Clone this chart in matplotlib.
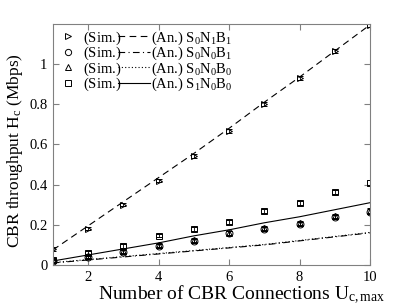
import numpy as np
import matplotlib
matplotlib.use("Agg")
import matplotlib.pyplot as plt
from matplotlib.lines import Line2D

plt.rcParams['font.family'] = ['Liberation Serif', 'DejaVu Serif']
plt.rcParams['mathtext.fontset'] = 'custom'
plt.rcParams['mathtext.rm'] = 'Liberation Serif'
plt.rcParams['mathtext.it'] = 'Liberation Serif'

# connections
u = [1, 2, 3, 4, 5, 6, 7, 8, 9, 10]

# simulation results (Mbps)
sim_s0n1b1 = [0.08, 0.18, 0.30, 0.42, 0.54, 0.665, 0.80, 0.93, 1.065, 1.195]
sim_s0n0b1 = [0.02, 0.04, 0.065, 0.095, 0.12, 0.16, 0.18, 0.205, 0.24, 0.265]
sim_s0n0b0 = [0.025, 0.045, 0.07, 0.10, 0.125, 0.16, 0.185, 0.21, 0.245, 0.27]
sim_s1n0b0 = [0.025, 0.06, 0.095, 0.145, 0.18, 0.215, 0.27, 0.31, 0.365, 0.41]
sim_err = [0.008, 0.008, 0.008, 0.008, 0.01, 0.01, 0.01, 0.01, 0.01, 0.012]

# analytical results (Mbps)
an_s0n1b1 = [0.075, 0.195, 0.315, 0.435, 0.555, 0.68, 0.81, 0.935, 1.065, 1.195]
an_s0n0b1 = [0.01, 0.025, 0.04, 0.055, 0.07, 0.085, 0.10, 0.12, 0.14, 0.16]
an_s0n0b0 = [0.012, 0.027, 0.042, 0.057, 0.072, 0.087, 0.102, 0.122, 0.142, 0.162]
an_s1n0b0 = [0.02, 0.05, 0.08, 0.11, 0.145, 0.175, 0.21, 0.24, 0.275, 0.31]

labels = [r'(An.) S$_0$N$_1$B$_1$', r'(An.) S$_0$N$_0$B$_1$',
          r'(An.) S$_0$N$_0$B$_0$', r'(An.) S$_1$N$_0$B$_0$']

fig = plt.figure(figsize=(4.07, 3.06), dpi=100)
ax = fig.add_axes([0.130, 0.134, 0.779, 0.788])

sims = [sim_s0n1b1, sim_s0n0b1, sim_s0n0b0, sim_s1n0b0]
ans = [an_s0n1b1, an_s0n0b1, an_s0n0b0, an_s1n0b0]
markers = ['>', 'o', '^', 's']
styles = [(0, (6, 4)), (0, (6, 3, 1, 3)), (0, (1, 2)), '-']

for s, m in zip(sims, markers):
    ax.errorbar(u, s, yerr=sim_err, fmt=m, mfc='none', mec='black', ms=5,
                mew=0.7, ecolor='black', elinewidth=0.6, capsize=2, capthick=0.6)
for a, ls in zip(ans, styles):
    ax.plot(u, a, color='black', lw=0.8, linestyle=ls)

ax.set_xlim(1, 10)
ax.set_ylim(0, 1.2)
ax.set_xticks([2, 4, 6, 8, 10])
ax.set_yticks([0, 0.2, 0.4, 0.6, 0.8, 1.0])
ax.set_yticklabels(['0', '0.2', '0.4', '0.6', '0.8', '1'])
ax.tick_params(direction='in', top=True, right=True, labelsize=10.5, length=4,
               color='#808080', pad=4)
for sp in ax.spines.values():
    sp.set_color('#808080')
ax.set_xlabel(r'Number of CBR Connections U$_{c,max}$', fontsize=14)
ax.set_ylabel(r'CBR throughput H$_c$ (Mbps)', fontsize=12.5)
ax.xaxis.set_label_coords(0.596, -0.076)
ax.yaxis.set_label_coords(-0.088, 0.473)

h_sim = [Line2D([], [], marker=m, ls='none', mfc='none', mec='black', ms=4.5, mew=0.7)
         for m in markers]
h_an = [Line2D([], [], color='black', lw=0.8, linestyle=ls) for ls in styles]
leg1 = ax.legend(h_sim, [r'(Sim.)$_{\,}$'] * 4, loc='upper left',
                 bbox_to_anchor=(0.025, 0.978), frameon=False, fontsize=10.5,
                 handlelength=1.0, handletextpad=0.5, labelspacing=-0.12,
                 borderaxespad=0, borderpad=0)
ax.add_artist(leg1)
ax.legend(h_an, labels, loc='upper left', bbox_to_anchor=(0.205, 0.978),
          frameon=False, fontsize=10.5, handlelength=2.2, handletextpad=0.05,
          labelspacing=-0.12, borderaxespad=0, borderpad=0)

fig.savefig('out.png', dpi=100)
